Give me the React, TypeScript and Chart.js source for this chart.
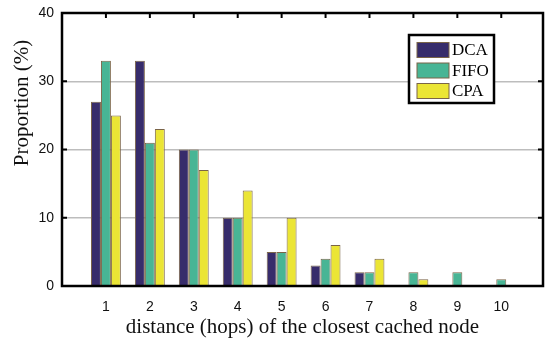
import React, { useEffect, useRef } from "react";
import { Chart, registerables } from "chart.js";

Chart.register(...registerables);

const hops = [1, 2, 3, 4, 5, 6, 7, 8, 9, 10];
const dcaValues = [27, 33, 20, 10, 5, 3, 2, 0, 0, 0];
const fifoValues = [33, 21, 20, 10, 5, 4, 2, 2, 2, 1];
const cpaValues = [25, 23, 17, 14, 10, 6, 4, 1, 0, 0];
const seriesNames = ["DCA", "FIFO", "CPA"];
const seriesColors = ["#372c6b", "#48b595", "#ebe535"];
const yTicks = [0, 10, 20, 30, 40];
const xTitle = "distance (hops) of the closest cached node";
const yTitle = "Proportion (%)";

const SERIF = "'Liberation Serif', 'Times New Roman', serif";
const SANS = "'Liberation Sans', Arial, sans-serif";

const framePlugin = {
  id: "frameAndLegend",
  afterDatasetsDraw(chart: any) {
    const { ctx, chartArea, scales } = chart;
    const { left, right, top, bottom } = chartArea;
    ctx.save();
    // tick marks
    ctx.strokeStyle = "#000";
    ctx.lineWidth = 2;
    hops.forEach((h) => {
      const x = scales.x.getPixelForValue(h);
      ctx.beginPath();
      ctx.moveTo(x, top);
      ctx.lineTo(x, top + 5);
      ctx.stroke();
    });
    yTicks.forEach((t) => {
      const y = scales.y.getPixelForValue(t);
      ctx.beginPath();
      ctx.moveTo(right, y);
      ctx.lineTo(right - 5, y);
      ctx.moveTo(left, y);
      ctx.lineTo(left + 5, y);
      ctx.stroke();
    });
    // frame
    ctx.lineWidth = 2.5;
    ctx.strokeRect(left, top, right - left, bottom - top);

    // legend
    const bx = right - 134;
    const by = top + 22;
    const bw = 85;
    const bh = 68;
    ctx.fillStyle = "#fff";
    ctx.fillRect(bx, by, bw, bh);
    ctx.lineWidth = 2.5;
    ctx.strokeStyle = "#000";
    ctx.strokeRect(bx, by, bw, bh);
    ctx.font = `17px ${SERIF}`;
    ctx.textBaseline = "middle";
    ctx.textAlign = "left";
    chart.data.datasets.forEach((ds: any, i: number) => {
      const cy = by + 15 + i * 20.5;
      ctx.fillStyle = ds.backgroundColor;
      ctx.fillRect(bx + 8, cy - 7.5, 32, 15);
      ctx.lineWidth = 1;
      ctx.strokeStyle = "#7a6448";
      ctx.strokeRect(bx + 8, cy - 7.5, 32, 15);
      ctx.fillStyle = "#000";
      ctx.fillText(ds.label, bx + 43, cy + 1);
    });

    // y axis title (placed above centre, as in the reference)
    ctx.translate(22, top + 90);
    ctx.rotate(-Math.PI / 2);
    ctx.font = `21px ${SERIF}`;
    ctx.textAlign = "center";
    ctx.textBaseline = "middle";
    ctx.fillStyle = "#111";
    ctx.fillText(yTitle, 0, 0);
    ctx.restore();
  },
};

export default function App() {
  const ref = useRef<HTMLCanvasElement | null>(null);

  useEffect(() => {
    document.body.style.margin = "0";
    const canvas = ref.current;
    if (!canvas) return;
    const all = [dcaValues, fifoValues, cpaValues];
    const chart = new Chart(canvas, {
      type: "bar",
      data: {
        datasets: all.map((vals, i) => ({
          label: seriesNames[i],
          data: hops.map((h, j) => ({ x: h, y: vals[j] })),
          backgroundColor: seriesColors[i],
          borderColor: "#7a6448",
          borderWidth: 1,
          barPercentage: 1,
          categoryPercentage: 0.68,
        })),
      },
      options: {
        responsive: false,
        animation: false,
        events: [],
        layout: { padding: { top: 13, right: 2, left: 0, bottom: 0 } },
        plugins: { legend: { display: false }, tooltip: { enabled: false } },
        scales: {
          x: {
            type: "linear",
            min: 0,
            max: 10.95,
            offset: false,
            grid: { display: false, drawTicks: false, offset: false },
            border: { display: false },
            afterBuildTicks: (s: any) => {
              s.ticks = hops.map((v) => ({ value: v }));
            },
            ticks: {
              autoSkip: false,
              padding: 13,
              color: "#111",
              font: { family: SANS, size: 14 },
            },
            title: {
              display: true,
              text: xTitle,
              color: "#111",
              font: { family: SERIF, size: 21, lineHeight: 1 },
              padding: { top: 0, bottom: 0 },
            },
            afterFit: (s: any) => {
              s.height = 52;
              s.paddingLeft = 0;
              s.paddingRight = 0;
            },
          },
          y: {
            min: 0,
            max: 40,
            grid: { color: "#bdbdbd", lineWidth: 1.5, drawTicks: false },
            border: { display: false },
            afterBuildTicks: (s: any) => {
              s.ticks = yTicks.map((v) => ({ value: v }));
            },
            ticks: {
              padding: 8,
              color: "#111",
              font: { family: SANS, size: 14 },
            },
            title: { display: false },
            afterFit: (s: any) => {
              s.width = 62;
              s.paddingTop = 0;
              s.paddingBottom = 0;
            },
          },
        },
      },
      plugins: [framePlugin],
    } as any);
    return () => chart.destroy();
  }, []);

  return (
    <div style={{ width: 545, height: 338, background: "#fff" }}>
      <canvas ref={ref} width={545} height={338} style={{ display: "block" }} />
    </div>
  );
}
